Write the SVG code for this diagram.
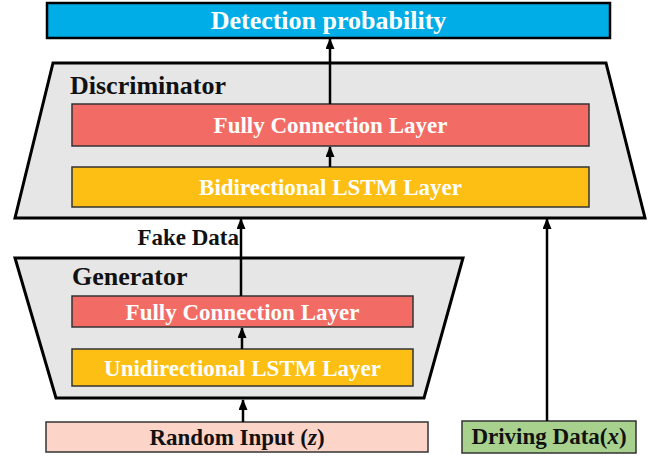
<svg xmlns="http://www.w3.org/2000/svg" width="667" height="459" viewBox="0 0 667 459">
<defs>
<marker id="ah" markerUnits="userSpaceOnUse" markerWidth="11" markerHeight="9" viewBox="0 0 11 9" refX="10" refY="4.5" orient="auto">
<path d="M0,0 L11,4.5 L0,9 Z" fill="#000"/>
</marker>
<style>
text{font-family:"Liberation Serif","Times New Roman",serif;font-weight:bold}
.trap{fill:#E7E6E6;stroke:#000;stroke-width:3;stroke-linejoin:miter}
.box{stroke:#333;stroke-width:1.5}
.fc{fill:#F26B64}
.lstm{fill:#FDBF13}
.wt{fill:#fff;font-size:23px;text-anchor:middle}
.bt{fill:#111;font-size:23px;text-anchor:middle}
.lbl{fill:#111;font-size:26px}
.conn line{stroke:#000;stroke-width:2.5;marker-end:url(#ah)}
</style>
</defs>
<rect width="667" height="459" fill="#fff"/>
<g id="detection">
<rect x="47" y="3" width="563" height="35" fill="#00ADE6" stroke="#000" stroke-width="2.5"/>
<text x="328.5" y="29" fill="#fff" font-size="26" text-anchor="middle">Detection probability</text>
</g>
<g id="discriminator">
<polygon class="trap" points="53,63 606,63 645,218 15,218"/>
<text class="lbl" x="70" y="94">Discriminator</text>
</g>
<g id="d-fc">
<rect class="box fc" x="72" y="104" width="517" height="42"/>
<text class="wt" x="330.5" y="133">Fully Connection Layer</text>
</g>
<g id="d-lstm">
<rect class="box lstm" x="72" y="167" width="517" height="40"/>
<text class="wt" x="330.5" y="195">Bidirectional LSTM Layer</text>
</g>
<g id="generator">
<polygon class="trap" points="15,258 463,258 424,398 56,398"/>
<text class="lbl" x="72" y="285">Generator</text>
</g>
<g id="g-fc">
<rect class="box fc" x="72" y="296" width="341" height="31"/>
<text class="wt" x="242.5" y="320">Fully Connection Layer</text>
</g>
<g id="g-lstm">
<rect class="box lstm" x="72" y="349" width="341" height="37"/>
<text class="wt" x="242.5" y="376">Unidirectional LSTM Layer</text>
</g>
<g id="random-input">
<rect class="box" x="46" y="422" width="382" height="30" fill="#FDD5C8"/>
<text class="bt" x="237" y="445">Random Input (<tspan font-style="italic">z</tspan>)</text>
</g>
<g id="driving-data">
<rect class="box" x="462" y="421" width="174" height="32" fill="#A9D18E"/>
<text class="bt" x="549" y="444">Driving Data(<tspan font-style="italic">x</tspan>)</text>
</g>
<g id="connectors" class="conn">
<line x1="330" y1="104" x2="330" y2="39"/>
<line x1="330" y1="167" x2="330" y2="147"/>
<line x1="241" y1="296" x2="241" y2="219"/>
<line x1="242" y1="349" x2="242" y2="328"/>
<line x1="243" y1="422" x2="243" y2="400"/>
<line x1="547" y1="421" x2="547" y2="219"/>
<text x="239" y="245" fill="#111" font-size="23" text-anchor="end">Fake Data</text>
</g>
</svg>
